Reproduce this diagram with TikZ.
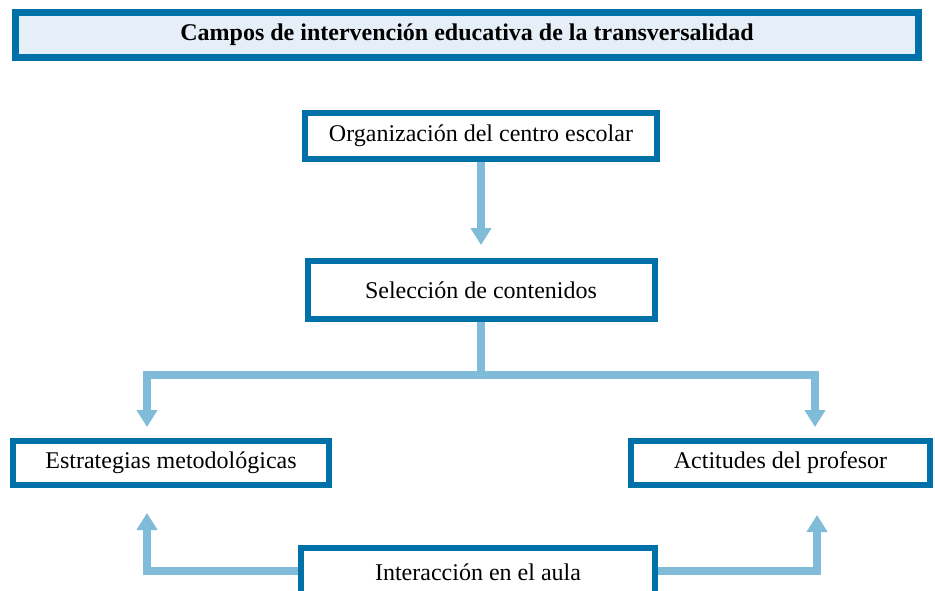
\documentclass[tikz,border=0pt]{standalone}
\usepackage{fontspec}
\setmainfont{Liberation Serif}
\usetikzlibrary{arrows.meta,calc,backgrounds}
\definecolor{boxblue}{HTML}{0071A8}
\definecolor{linkblue}{HTML}{80BBDA}
\definecolor{titlefill}{HTML}{E6EFF7}
\tikzset{
  box/.style={draw=boxblue, line width=6pt, fill=white, rectangle, inner sep=0pt,
    font=\fontsize{24}{28}\selectfont, text=black},
  titlebox/.style={box, line width=7pt, fill=titlefill, font=\fontsize{24}{28}\selectfont\bfseries},
  conn/.style={draw=linkblue, line width=8pt},
  connarrow/.style={conn, -{Triangle[width=20pt,length=17pt]}},
}
\begin{document}
\begin{tikzpicture}[x=1pt,y=-1pt]
\path[use as bounding box, clip] (0,0) rectangle (935,590);
\node[titlebox, minimum width=903pt, minimum height=45pt] (title) at (467,35) {Campos de intervención educativa de la transversalidad};
\node[box, minimum width=352pt, minimum height=46pt] (org) at (481,136) {Organización del centro escolar};
\node[box, minimum width=347pt, minimum height=58pt] (sel) at (481,290) {Selección de contenidos};
\node[box, minimum width=316pt, minimum height=44pt] (est) at (171,463) {Estrategias metodológicas};
\node[box, minimum width=299pt, minimum height=44pt] (act) at (780.5,463) {Actitudes del profesor};
\node[box, minimum width=354pt, minimum height=49pt] (int) at (478,572.5) {Interacción en el aula};
\coordinate (junc) at (481,375);
\begin{pgfonlayer}{background}
\draw[connarrow, shorten >=13pt] (org.south) -- (sel.north);
\draw[conn] (sel.south) -- (junc);
\draw[connarrow, shorten >=11pt] (junc) -| ([xshift=-24pt]est.north);
\draw[connarrow, shorten >=11pt] (junc) -| ([xshift=34.5pt]act.north);
\draw[connarrow, shorten >=25pt] ([yshift=1.5pt]int.west) -| ([xshift=-24pt]est.south);
\draw[connarrow, shorten >=27pt] ([yshift=1.5pt]int.east) -| ([xshift=36.5pt]act.south);
\end{pgfonlayer}
\end{tikzpicture}
\end{document}
